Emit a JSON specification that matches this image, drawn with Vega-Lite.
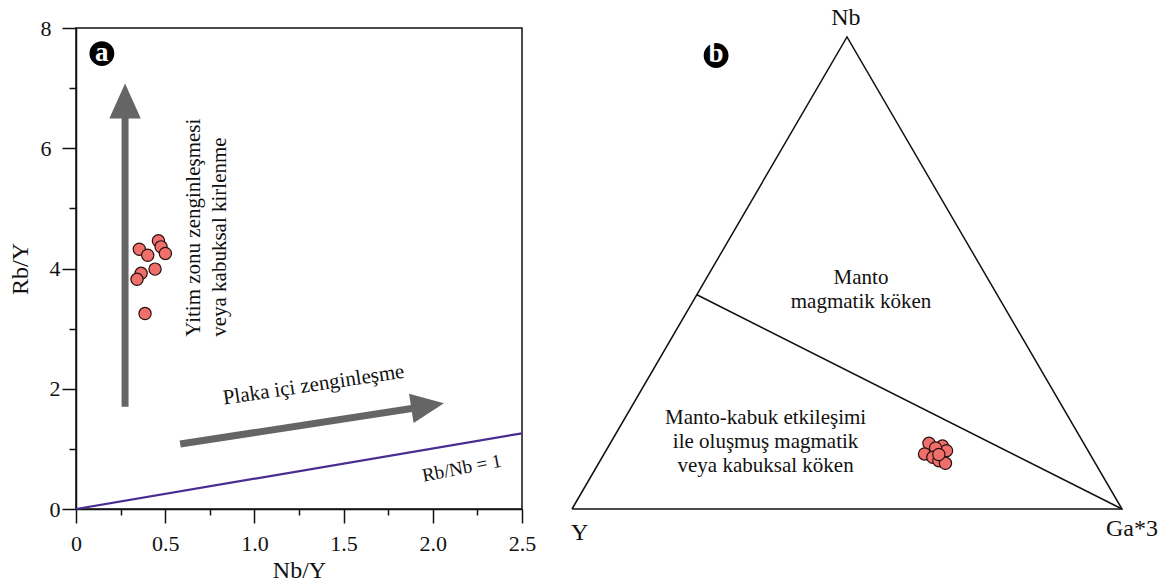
{
  "$schema": "https://vega.github.io/schema/vega-lite/v6.json",
  "background": "white",
  "padding": {"left": 7, "top": 6, "right": 0, "bottom": 0},
  "bounds": "flush",
  "spacing": 50,
  "config": {"font": "Liberation Serif", "text": {"font": "Liberation Serif", "color": "#111"}},
  "datasets": {
    "samples_a": [
      {"x": 0.355, "y": 4.32}, {"x": 0.402, "y": 4.22}, {"x": 0.462, "y": 4.46},
      {"x": 0.477, "y": 4.36}, {"x": 0.501, "y": 4.25}, {"x": 0.443, "y": 3.99},
      {"x": 0.365, "y": 3.92}, {"x": 0.342, "y": 3.82}, {"x": 0.387, "y": 3.25}
    ],
    "samples_b": [
      {"x": 0.649, "y": 0.1205}, {"x": 0.6735, "y": 0.1155}, {"x": 0.681, "y": 0.107},
      {"x": 0.661, "y": 0.112}, {"x": 0.641, "y": 0.101}, {"x": 0.656, "y": 0.0948},
      {"x": 0.667, "y": 0.0886}, {"x": 0.679, "y": 0.0838}, {"x": 0.667, "y": 0.100}
    ]
  },
  "hconcat": [
    {
      "width": 446,
      "height": 481,
      "view": {"stroke": "#111", "strokeWidth": 1.5},
      "encoding": {
        "x": {
          "field": "x", "type": "quantitative",
          "scale": {"domain": [0, 2.5], "nice": false, "zero": false},
          "axis": {
            "title": "Nb/Y",
            "values": [0, 0.25, 0.5, 0.75, 1, 1.25, 1.5, 1.75, 2, 2.25, 2.5],
            "labelExpr": "datum.value === 0 ? '0' : (datum.value % 0.5 === 0 ? format(datum.value, '.1f') : '')",
            "tickSize": {"condition": {"test": "datum.value % 0.5 === 0", "value": 14}, "value": 6},
            "labelPadding": 10, "titlePadding": 4, "grid": false,
            "labelFontSize": 22, "titleFontSize": 24, "titleFontWeight": "normal",
            "labelFont": "Liberation Serif", "titleFont": "Liberation Serif",
            "labelColor": "#111", "titleColor": "#111", "domainColor": "#111", "tickColor": "#111",
            "domainWidth": 1.5, "tickWidth": 1.5, "labelFlush": false, "labelOverlap": false, "labelBound": false
          }
        },
        "y": {
          "field": "y", "type": "quantitative",
          "scale": {"domain": [0, 8], "nice": false, "zero": false},
          "axis": {
            "title": "Rb/Y",
            "values": [0, 1, 2, 3, 4, 5, 6, 7, 8],
            "labelExpr": "datum.value % 2 === 0 ? datum.label : ''",
            "tickSize": {"condition": {"test": "datum.value % 2 === 0", "value": 14}, "value": 7},
            "labelPadding": {"condition": {"test": "datum.value >= 6", "value": 11}, "value": 2},
            "titlePadding": 8, "grid": false,
            "labelFontSize": 22, "titleFontSize": 24, "titleFontWeight": "normal",
            "labelFont": "Liberation Serif", "titleFont": "Liberation Serif",
            "labelColor": "#111", "titleColor": "#111", "domainColor": "#111", "tickColor": "#111",
            "domainWidth": 1.5, "tickWidth": 1.5, "labelFlush": false, "labelOverlap": false, "labelBound": false
          }
        }
      },
      "layer": [
        {
          "data": {"values": [{"x": 0, "y": 0}, {"x": 2.5, "y": 1.258}]},
          "mark": {"type": "line", "color": "#4a2c91", "strokeWidth": 2.2},
          "encoding": {}
        },
        {
          "data": {"values": [
            {"x": 0.275, "y": 1.70, "x2": 0.275, "y2": 6.6},
            {"x": 0.584, "y": 1.08, "x2": 1.90, "y2": 1.68}
          ]},
          "mark": {"type": "rule", "color": "#656565", "strokeWidth": 7},
          "encoding": {"x2": {"field": "x2"}, "y2": {"field": "y2"}}
        },
        {
          "data": {"values": [{"x": 0.275, "y": 6.785}]},
          "mark": {"type": "point", "shape": "M0,-1L0.9,1L-0.9,1Z", "filled": true, "color": "#656565", "strokeWidth": 0, "size": 1225, "opacity": 1}
        },
        {
          "data": {"values": [{"x": 1.971, "y": 1.715}]},
          "mark": {"type": "point", "shape": "M0,-1L0.9,1L-0.9,1Z", "filled": true, "color": "#656565", "strokeWidth": 0, "size": 1089, "opacity": 1, "angle": 81.2}
        },
        {
          "data": {"values": [
            {"x": 0.662, "y": 2.864, "t": "Yitim zonu zenginleşmesi"},
            {"x": 0.806, "y": 2.864, "t": "veya kabuksal kirlenme"}
          ]},
          "mark": {"type": "text", "angle": 270, "align": "left", "baseline": "middle", "fontSize": 21, "color": "#111"},
          "encoding": {"text": {"field": "t"}}
        },
        {
          "data": {"values": [{"x": 1.332, "y": 2.06, "t": "Plaka içi zenginleşme"}]},
          "mark": {"type": "text", "angle": 351.5, "align": "center", "baseline": "middle", "fontSize": 21, "color": "#111"},
          "encoding": {"text": {"field": "t"}}
        },
        {
          "data": {"values": [{"x": 2.162, "y": 0.68, "t": "Rb/Nb = 1"}]},
          "mark": {"type": "text", "angle": 349, "align": "center", "baseline": "middle", "fontSize": 19, "color": "#111"},
          "encoding": {"text": {"field": "t"}}
        },
        {
          "data": {"name": "samples_a"},
          "mark": {"type": "circle", "size": 150, "color": "#ef6f6b", "stroke": "#2b1010", "strokeWidth": 1.2, "opacity": 1}
        },
        {
          "data": {"values": [{"x": 0.145, "y": 7.575, "t": "a"}]},
          "layer": [
            {"mark": {"type": "circle", "size": 616, "color": "#000", "opacity": 1}},
            {"mark": {"type": "text", "fontSize": 27, "fontWeight": "bold", "color": "#fff", "align": "center", "baseline": "middle", "dy": -1}, "encoding": {"text": {"field": "t"}}}
          ]
        }
      ]
    },
    {
      "width": 550,
      "height": 481,
      "view": {"stroke": null},
      "encoding": {
        "x": {"field": "x", "type": "quantitative", "scale": {"domain": [0, 1], "nice": false, "zero": false}, "axis": null},
        "y": {"field": "y", "type": "quantitative", "scale": {"domain": [0, 0.8824], "nice": false, "zero": false}, "axis": null}
      },
      "layer": [
        {
          "data": {"values": [
            {"x": 0, "y": 0, "o": 1}, {"x": 1, "y": 0, "o": 2},
            {"x": 0.5, "y": 0.866, "o": 3}, {"x": 0, "y": 0, "o": 4}
          ]},
          "mark": {"type": "line", "color": "#111", "strokeWidth": 1.5},
          "encoding": {"order": {"field": "o", "type": "quantitative"}}
        },
        {
          "data": {"values": [{"x": 0.227, "y": 0.393}, {"x": 1, "y": 0}]},
          "mark": {"type": "line", "color": "#111", "strokeWidth": 1.5},
          "encoding": {}
        },
        {
          "data": {"values": [
            {"x": 0.498, "y": 0.900, "t": "Nb"},
            {"x": 0.014, "y": -0.044, "t": "Y"},
            {"x": 1.018, "y": -0.037, "t": "Ga*3"}
          ]},
          "mark": {"type": "text", "fontSize": 24, "align": "center", "baseline": "middle", "color": "#111"},
          "encoding": {"text": {"field": "t"}}
        },
        {
          "data": {"values": [
            {"x": 0.5255, "y": 0.424, "t": "Manto"},
            {"x": 0.5255, "y": 0.380, "t": "magmatik köken"},
            {"x": 0.352, "y": 0.1674, "t": "Manto-kabuk etkileşimi"},
            {"x": 0.352, "y": 0.1234, "t": "ile oluşmuş magmatik"},
            {"x": 0.352, "y": 0.0794, "t": "veya kabuksal köken"}
          ]},
          "mark": {"type": "text", "fontSize": 21, "align": "center", "baseline": "middle", "color": "#111"},
          "encoding": {"text": {"field": "t"}}
        },
        {
          "data": {"name": "samples_b"},
          "mark": {"type": "circle", "size": 150, "color": "#ef6f6b", "stroke": "#2b1010", "strokeWidth": 1.2, "opacity": 1}
        },
        {
          "data": {"values": [{"x": 0.262, "y": 0.832, "t": "b"}]},
          "layer": [
            {"mark": {"type": "circle", "size": 616, "color": "#000", "opacity": 1}},
            {"mark": {"type": "text", "fontSize": 27, "fontWeight": "bold", "color": "#fff", "align": "center", "baseline": "middle", "dy": -1}, "encoding": {"text": {"field": "t"}}}
          ]
        }
      ]
    }
  ]
}
